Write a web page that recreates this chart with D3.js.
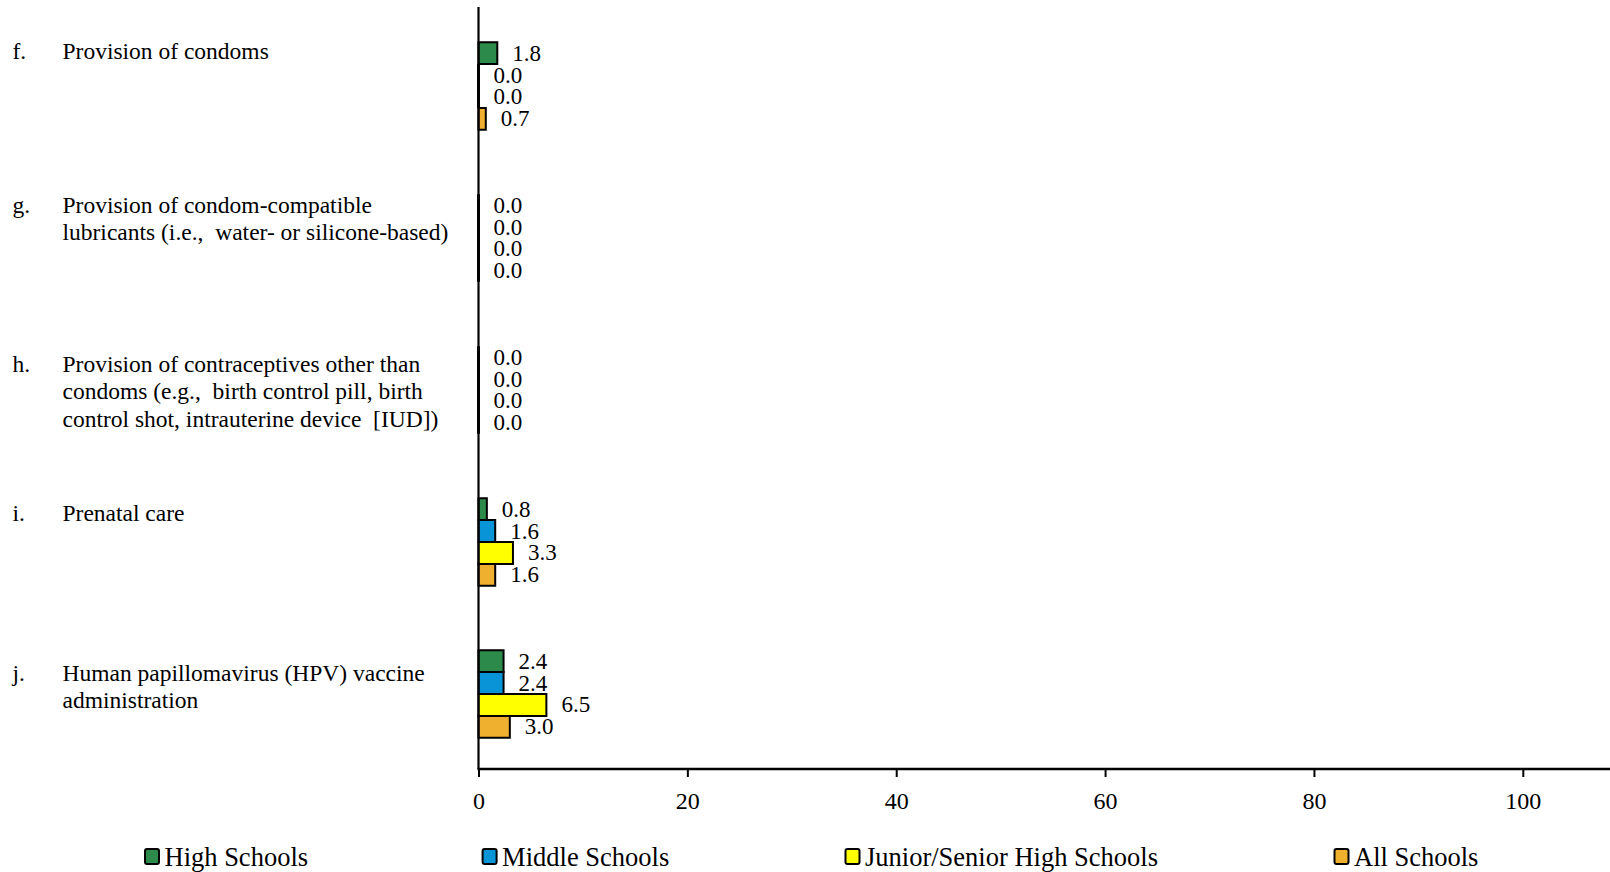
<!DOCTYPE html>
<html>
<head>
<meta charset="utf-8">
<script src="https://cdn.jsdelivr.net/npm/d3@7"></script>
<style>
  html, body { margin: 0; padding: 0; background: #fff; }
  svg { display: block; }
  text { font-family: "Liberation Serif", "Times New Roman", serif; fill: #000; white-space: pre; }
</style>
</head>
<body>
<svg id="chart" width="1610" height="872"></svg>
<script>
// ---- data ----
const categoryLetters = ["f.", "g.", "h.", "i.", "j."];
const categoryLines = [
  ["Provision of condoms"],
  ["Provision of condom-compatible", "lubricants (i.e.,  water- or silicone-based)"],
  ["Provision of contraceptives other than", "condoms (e.g.,  birth control pill, birth", "control shot, intrauterine device  [IUD])"],
  ["Prenatal care"],
  ["Human papillomavirus (HPV) vaccine", "administration"]
];
const seriesNames = ["High Schools", "Middle Schools", "Junior/Senior High Schools", "All Schools"];
const highSchools   = [1.8, 0.0, 0.0, 0.8, 2.4];
const middleSchools = [0.0, 0.0, 0.0, 1.6, 2.4];
const juniorSenior  = [0.0, 0.0, 0.0, 3.3, 6.5];
const allSchools    = [0.7, 0.0, 0.0, 1.6, 3.0];
const xTicks = [0, 20, 40, 60, 80, 100];

// ---- layout / style ----
const colors = ["#2C8A4B", "#0A94D8", "#FFFF00", "#F0B02F"];
const seriesValues = [highSchools, middleSchools, juniorSenior, allSchools];
const W = 1610, H = 872;
const xLeft = 478.5, xAt100 = 1522.8;
const axisTop = 7, axisBottom = 769;
const labelOffsets = [49.3, 51, 58, 54.7, 62.7]; // first-line baseline offset from band start
const lineGap = 27.4;
const legendX = [144, 481.6, 844.5, 1333.5];

const svg = d3.select("#chart");

const x = d3.scaleLinear().domain([0, 100]).range([xLeft, xAt100]);
const y = d3.scaleBand().domain(d3.range(categoryLetters.length)).range([10, 770]).paddingInner(0).paddingOuter(0);
const inner = d3.scaleBand().domain(d3.range(seriesNames.length)).range([0, 87.6]);

// bars
categoryLetters.forEach((c, ci) => {
  const groupTop = y(ci) + (y.bandwidth() - 87.6) / 2;
  seriesValues.forEach((vals, si) => {
    const v = vals[ci];
    const yy = groupTop + inner(si);
    const h = inner.bandwidth();
    const x0 = x(0), x1 = x(v);
    const p = d3.path();
    p.moveTo(x0, yy); p.lineTo(x1, yy); p.lineTo(x1, yy + h); p.lineTo(x0, yy + h); p.closePath();
    svg.append("path").attr("d", p.toString())
      .attr("fill", colors[si]).attr("stroke", "#000").attr("stroke-width", v === 0 ? 3 : 2);
    svg.append("text")
      .attr("x", x1 + 15).attr("y", yy + h / 2 + 7.5)
      .attr("font-size", 23)
      .text(d3.format(".1f")(v));
  });
});

// category labels
categoryLetters.forEach((c, ci) => {
  const base = y(ci) + labelOffsets[ci];
  svg.append("text").attr("x", 12.5).attr("y", base).attr("font-size", 23.5).text(c);
  categoryLines[ci].forEach((line, li) => {
    svg.append("text").attr("x", 62.5).attr("y", base + li * lineGap)
      .attr("font-size", 23.5).text(line);
  });
});

// axes
svg.append("line").attr("x1", xLeft).attr("x2", xLeft).attr("y1", axisTop).attr("y2", axisBottom)
  .attr("stroke", "#000").attr("stroke-width", 2.2);
svg.append("line").attr("x1", xLeft - 1).attr("x2", W).attr("y1", axisBottom).attr("y2", axisBottom)
  .attr("stroke", "#000").attr("stroke-width", 2.5);

const xAxis = d3.axisBottom(x).tickValues(xTicks).tickSize(8).tickFormat(d3.format("d"));
const gx = svg.append("g").attr("transform", `translate(0,${axisBottom})`).call(xAxis)
  .attr("font-family", "Liberation Serif, serif");
gx.select(".domain").remove();
gx.selectAll(".tick line").attr("stroke", "#000").attr("stroke-width", 2);
gx.selectAll(".tick text").attr("font-size", 24)
  .attr("fill", "#000").attr("dy", null).attr("y", 40);

// legend
seriesNames.forEach((name, si) => {
  const lx = legendX[si];
  svg.append("rect").attr("x", lx + 1).attr("y", 849).attr("width", 14).attr("height", 15)
    .attr("rx", 2).attr("fill", colors[si]).attr("stroke", "#000").attr("stroke-width", 2);
  svg.append("text").attr("x", lx + 20.5).attr("y", 866).attr("font-size", 26.5).text(name);
});
</script>
</body>
</html>
